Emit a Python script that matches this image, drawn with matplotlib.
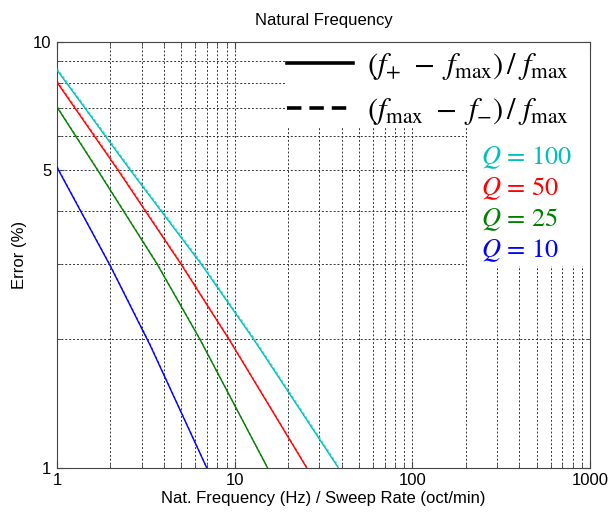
import matplotlib
matplotlib.use("Agg")
import matplotlib.pyplot as plt
from matplotlib.patches import Rectangle
from matplotlib.lines import Line2D
from matplotlib.ticker import FixedLocator, FixedFormatter, NullFormatter

plt.rcParams['font.family'] = ['Liberation Sans', 'DejaVu Sans']
plt.rcParams['mathtext.fontset'] = 'stix'

# error curves, (rate, error %) pairs for each Q
# upper = (f+ - fmax)/fmax, lower = (fmax - f-)/fmax
q_values = [100, 50, 25, 10]
q_colors = [(0, 0.75, 0.75), (1, 0, 0), (0, 0.5, 0), (0, 0, 1)]

rate_q100 = [1.0, 2.58, 6.5, 12.8, 38.3]
err_q100_upper = [8.58, 5.0, 3.0, 2.0, 1.0]
err_q100_lower = [8.66, 5.05, 3.03, 2.02, 1.01]

rate_q50 = [1.0, 2.2, 5.0, 9.3, 25.4]
err_q50_upper = [8.03, 5.0, 3.0, 2.0, 1.0]
err_q50_lower = [8.09, 5.04, 3.02, 2.01, 1.005]

rate_q25 = [1.0, 1.69, 3.67, 6.38, 15.3]
err_q25_upper = [7.02, 5.0, 3.0, 2.0, 1.0]
err_q25_lower = [7.05, 5.02, 3.01, 2.005, 1.0]

rate_q10 = [1.0, 2.0, 3.34, 6.96]
err_q10_upper = [5.07, 2.97, 1.94, 1.0]
err_q10_lower = [5.09, 2.98, 1.95, 1.0]

curves = [
    (rate_q100, err_q100_upper, err_q100_lower),
    (rate_q50, err_q50_upper, err_q50_lower),
    (rate_q25, err_q25_upper, err_q25_lower),
    (rate_q10, err_q10_upper, err_q10_lower),
]

x_major = [1, 10, 100, 1000]
x_labels = ['1', '10', '100', '1000']
y_major = [1, 5, 10]
y_labels = ['1', '5', '10']
y_minor = [2, 3, 4, 6, 7, 8, 9]

fig = plt.figure(figsize=(6.14, 5.16), dpi=100)
ax = fig.add_axes([57 / 614, 48.3 / 516, 533 / 614, 426 / 516])
ax.set_xscale('log')
ax.set_yscale('log')
ax.set_xlim(1, 1000)
ax.set_ylim(1, 10)

for (rate, up, low), col in zip(curves, q_colors):
    ax.plot(rate, low, color=col, lw=1.0, ls=(0, (2, 1.5)), alpha=0.6, zorder=3)
    ax.plot(rate, up, color=col, lw=1.0, zorder=4)

ax.xaxis.set_major_locator(FixedLocator(x_major))
ax.xaxis.set_major_formatter(FixedFormatter(x_labels))
ax.xaxis.set_minor_formatter(NullFormatter())
ax.yaxis.set_major_locator(FixedLocator(y_major))
ax.yaxis.set_major_formatter(FixedFormatter(y_labels))
ax.yaxis.set_minor_locator(FixedLocator(y_minor))
ax.yaxis.set_minor_formatter(NullFormatter())

ax.set_axisbelow(True)
ax.grid(True, which='both', ls=(0, (2, 2)), color='#333333', lw=0.7)
ax.tick_params(which='both', direction='in', top=True, right=True,
               labelsize=12, color='#444444', pad=4)
ax.tick_params(which='major', length=5)
ax.tick_params(which='minor', length=3)
for sp in ax.spines.values():
    sp.set_color('#444444')

# white panels behind the two legends
ax.add_patch(Rectangle((0.428, 0.80), 0.572, 0.20, transform=ax.transAxes,
                       facecolor='white', edgecolor='none', zorder=1.5))
ax.add_patch(Rectangle((0.769, 0.473), 0.231, 0.33, transform=ax.transAxes,
                       facecolor='white', edgecolor='none', zorder=1.5))

handles = [Line2D([], [], color='black', lw=2.6),
           Line2D([], [], color='black', lw=2.6, ls=(0, (4, 2.2)))]
labels = [r'$(f_{+}\ -\ f_{\mathrm{max}})\,/\ f_{\mathrm{max}}$',
          r'$(f_{\mathrm{max}}\ -\ f_{-})\,/\ f_{\mathrm{max}}$']
ax.legend(handles, labels, loc='center left', bbox_to_anchor=(0.4315, 0.889),
          frameon=False, fontsize=22, handlelength=2.17, handletextpad=0.46,
          labelspacing=0.45, borderpad=0, borderaxespad=0)

for i, (q, col) in enumerate(zip(q_values, q_colors)):
    ax.text(0.796, 0.729 - i * 0.073, r'$Q$ = %d' % q, transform=ax.transAxes,
            color=col, fontsize=19, family='STIXGeneral', va='center', ha='left')

ax.set_title('Natural Frequency', fontsize=12, pad=12)
ax.set_xlabel('Nat. Frequency (Hz) / Sweep Rate (oct/min)', fontsize=12, labelpad=2)
ax.set_ylabel('Error (%)', fontsize=12, labelpad=4)

fig.savefig('out.png', dpi=100)
